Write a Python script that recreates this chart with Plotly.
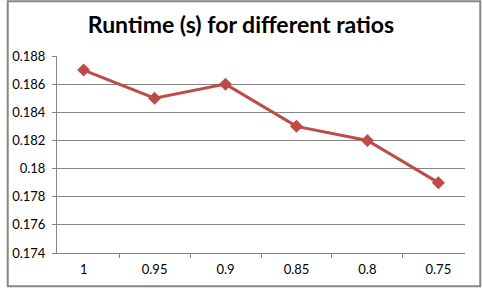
import plotly.graph_objects as go

categories = ["1", "0.95", "0.9", "0.85", "0.8", "0.75"]
runtime = [0.187, 0.185, 0.186, 0.183, 0.182, 0.179]
y_ticks = [0.174, 0.176, 0.178, 0.18, 0.182, 0.184, 0.186, 0.188]
y_tick_labels = ["0.174", "0.176", "0.178", "0.18", "0.182", "0.184", "0.186", "0.188"]

W, H = 482, 289
L, R, T, B = 51, 17, 56, 35
pw, ph = W - L - R, H - T - B


def px_x(px):
    return (px - L) / pw


def px_y(py):
    return (H - B - py) / ph


fig = go.Figure()
fig.add_trace(go.Scatter(
    x=categories, y=runtime, mode="lines+markers",
    line=dict(color="#BE4B48", width=3),
    marker=dict(symbol="diamond", size=10, color="#BE4B48"),
    showlegend=False, hoverinfo="skip",
))

fig.update_layout(
    width=W, height=H,
    margin=dict(l=L, r=R, t=T, b=B),
    paper_bgcolor="white", plot_bgcolor="white",
    title=dict(text="<b>Runtime (s) for different ratios</b>", x=0.5, xanchor="center",
               y=1 - 25 / H, yanchor="middle",
               font=dict(family="Lato, Open Sans, sans-serif", size=23, color="black")),
    font=dict(family="Lato, Open Sans, sans-serif", size=13, color="black"),
    xaxis=dict(type="category", showgrid=False, showline=True, linecolor="#868686", linewidth=1,
               ticks="outside", ticklen=4, tickcolor="#868686", tickson="boundaries",
               tickfont=dict(size=13), zeroline=False, ticklabelstandoff=4),
    yaxis=dict(range=[0.174, 0.188], tickvals=y_ticks, ticktext=y_tick_labels,
               showgrid=True, gridcolor="#868686", gridwidth=1,
               showline=True, linecolor="#868686", linewidth=1,
               ticks="outside", ticklen=4, tickcolor="#868686",
               tickfont=dict(size=13), zeroline=False, ticklabelstandoff=4),
    shapes=[dict(type="rect", xref="paper", yref="paper",
                 x0=px_x(1), x1=px_x(480.5),
                 y0=px_y(287.5), y1=px_y(1),
                 line=dict(color="#868686", width=2), fillcolor="rgba(0,0,0,0)")],
)

fig.write_html("out.html", config={"displayModeBar": False, "staticPlot": True},
               post_script="document.body.style.margin='0px';document.body.style.overflow='hidden';")
